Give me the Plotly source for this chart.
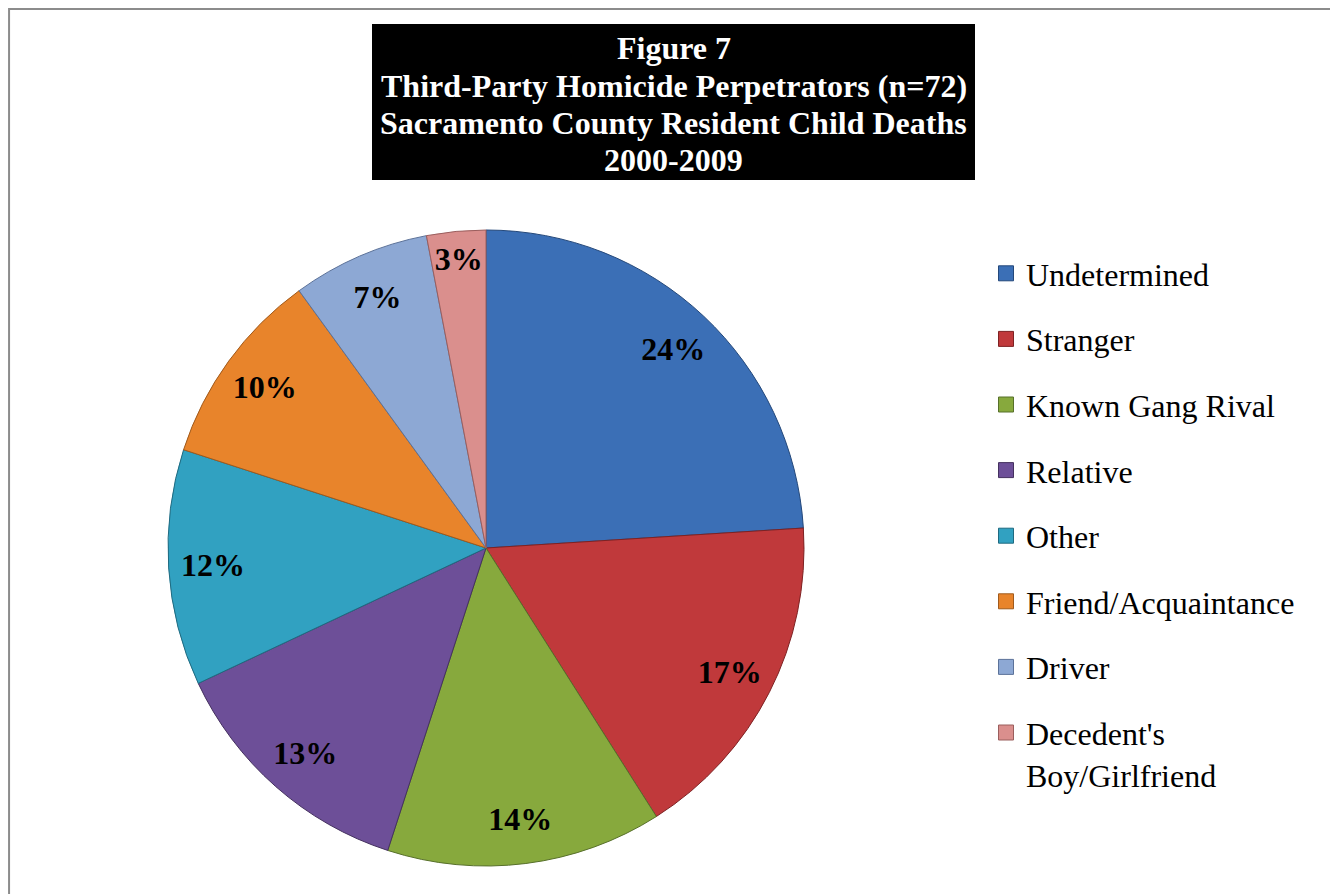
import plotly.graph_objects as go

labels = ['Undetermined', 'Stranger', 'Known Gang Rival', 'Relative', 'Other',
          'Friend/Acquaintance', 'Driver', "Decedent's<br>Boy/Girlfriend"]
values = [24, 17, 14, 13, 12, 10, 7, 3]
colors = ['#3B6FB6', '#C0393B', '#87A93D', '#6D4F98', '#31A1C1', '#E8842B', '#8DA8D4', '#DA8F8D']
edges = ['#24487A', '#7E2223', '#57702A', '#45315F', '#1F6A80', '#A05A1C', '#5C7299', '#9A5E5D']
title_lines = ['Figure 7', 'Third-Party Homicide Perpetrators (n=72)',
               'Sacramento County Resident Child Deaths', '2000-2009']

W, H = 1327, 886
fig = go.Figure()

# the pie itself
fig.add_trace(go.Pie(labels=labels, values=values, sort=False, direction='clockwise', rotation=0,
                     marker=dict(colors=colors, line=dict(color=edges, width=1)),
                     textinfo='none', hoverinfo='label+percent', showlegend=False,
                     domain=dict(x=[160 / W, 796 / W], y=[28 / H, 664 / H])))

# transparent ring on top, only to put the percent labels near the rim
fig.add_trace(go.Pie(labels=labels, values=values, sort=False, direction='clockwise', rotation=0,
                     hole=0.72, marker=dict(colors=['rgba(0,0,0,0)'] * len(values), line=dict(width=0)),
                     textinfo='percent', textposition='inside', insidetextorientation='horizontal',
                     texttemplate='%{percent:.0%}',
                     insidetextfont=dict(family='Liberation Serif', size=32, color='black', weight='bold'),
                     hoverinfo='skip', showlegend=False,
                     domain=dict(x=[160 / W, 796 / W], y=[28 / H, 664 / H])))

# legend entries, one group each so the gap between them can be set
for i in range(len(labels)):
    fig.add_trace(go.Scatter(x=[None], y=[None], mode='markers', name=labels[i],
                             legendgroup=str(i),
                             marker=dict(symbol='square', size=15, color=colors[i],
                                         line=dict(color=edges[i], width=1))))

# outer frame
fig.add_shape(type='rect', xref='paper', yref='paper', x0=0.0008, x1=0.9992, y0=-0.05, y1=0.999,
              line=dict(color='#8c8c8c', width=2))

# black title box
fig.add_shape(type='rect', xref='paper', yref='paper', x0=364 / W, x1=967 / W,
              y0=1 - 172 / H, y1=1 - 16 / H, fillcolor='black', line=dict(width=0))
title_y = [40, 78, 115, 152]
for line, ty in zip(title_lines, title_y):
    fig.add_annotation(xref='paper', yref='paper', x=665.5 / W, y=1 - ty / H,
                       xanchor='center', yanchor='middle', text='<b>' + line + '</b>',
                       showarrow=False, font=dict(family='Liberation Serif', size=32, color='white'))

fig.update_xaxes(visible=False)
fig.update_yaxes(visible=False)
fig.update_layout(width=W, height=H, margin=dict(l=0, r=0, t=0, b=0),
                  paper_bgcolor='white', plot_bgcolor='white',
                  uniformtext=dict(minsize=32, mode='show'),
                  legend=dict(x=978 / W, y=1 - 238 / H, xanchor='left', yanchor='top',
                              tracegroupgap=21, valign='top',
                              font=dict(family='Liberation Serif', size=32, color='black')))

fig.write_html("out.html")
